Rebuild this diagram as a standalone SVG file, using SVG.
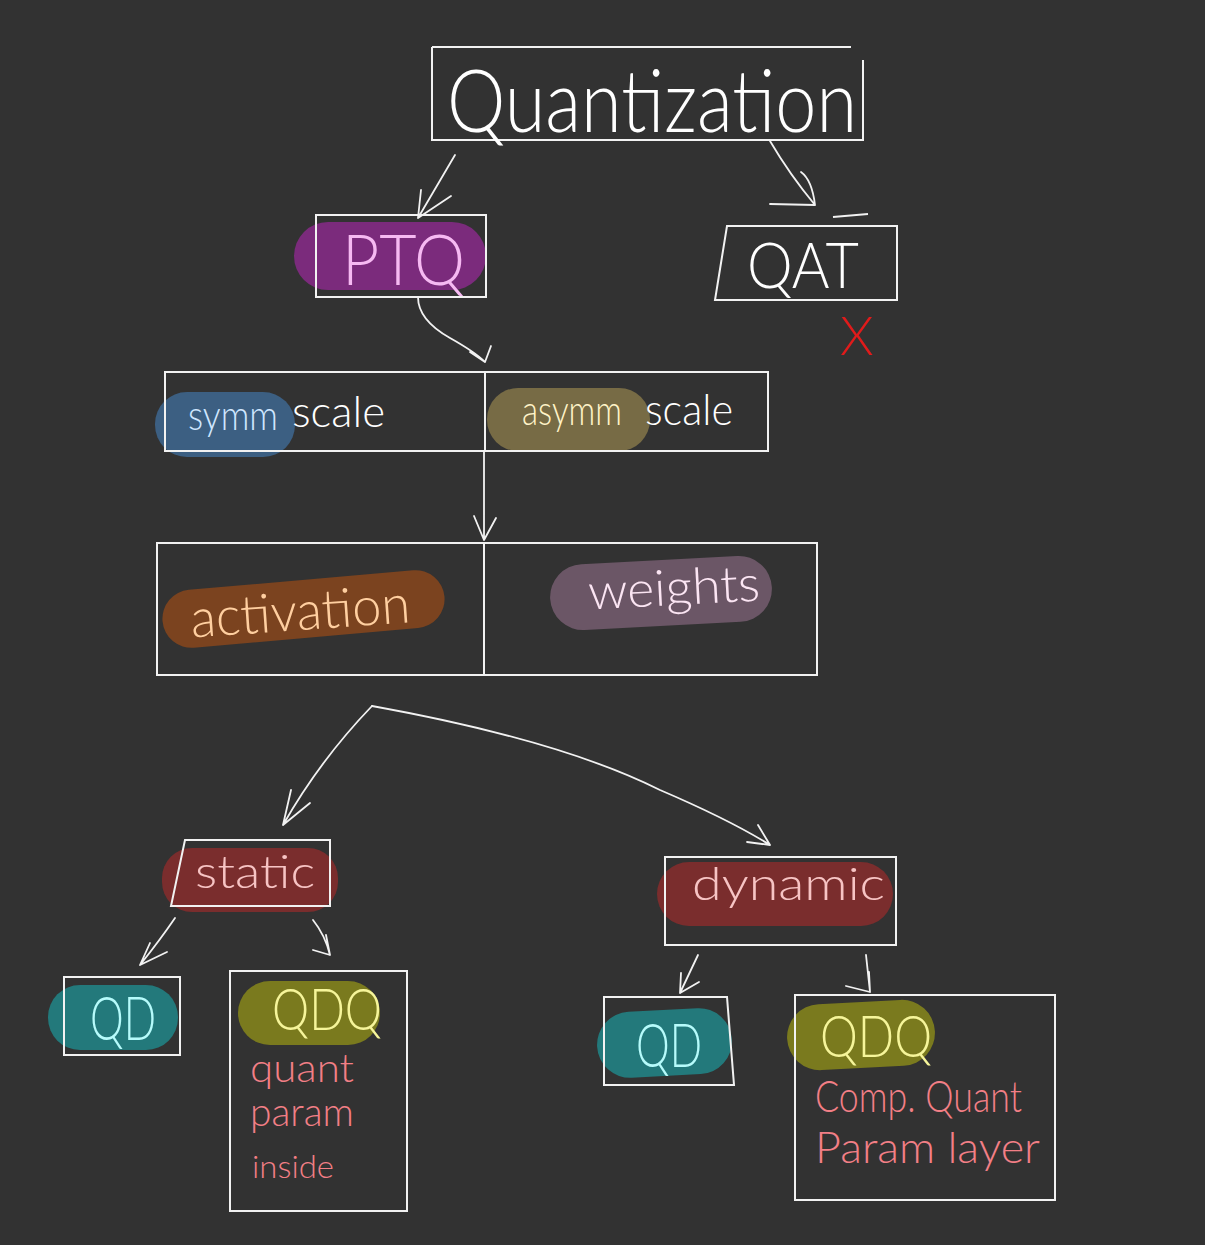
<svg xmlns="http://www.w3.org/2000/svg" width="1205" height="1245" viewBox="0 0 1205 1245">
<style>
.box{fill:none;stroke:#f2f2f2;stroke-width:2}
.con{fill:none;stroke:#f2f2f2;stroke-width:1.8;stroke-linecap:round;stroke-linejoin:round}
.t{font-family:Lato,"Liberation Sans",sans-serif;font-weight:300}
.w{fill:#ffffff}
.pk{fill:#f27f86}
</style>
<rect x="0" y="0" width="1205" height="1245" fill="#323232"/>

<g id="node-quantization">
<path class="box" d="M432 47 L851 47 M432 47 L432 140 L863 140 L863 60"/>
<text class="t w" x="447" y="132" font-size="86" textLength="410" lengthAdjust="spacingAndGlyphs">Quantization</text>
</g>

<g id="node-ptq">
<rect x="294" y="222" width="192" height="68" rx="34" fill="#7b2b7c"/>
<rect class="box" x="316" y="215" width="170" height="82"/>
<text class="t" x="342" y="285" font-size="70" textLength="123" lengthAdjust="spacingAndGlyphs" fill="#f6b9f2">PTQ</text>
</g>

<g id="node-qat">
<path class="box" d="M727 226 L897 226 L897 300 L715 300 Z M833 217 L868 214"/>
<text class="t w" x="747" y="288" font-size="64" textLength="112" lengthAdjust="spacingAndGlyphs">QAT</text>
<text class="t" x="840" y="355" font-size="54" fill="#e01b1b">X</text>
</g>

<g id="node-scale">
<rect x="155" y="392" width="140" height="65" rx="32" fill="#3c5f82"/>
<rect x="487" y="388" width="163" height="63" rx="31" fill="#776b45"/>
<rect class="box" x="165" y="372" width="603" height="79"/>
<line class="box" x1="485" y1="372" x2="485" y2="451"/>
<text class="t" x="188" y="430" font-size="42" textLength="90" lengthAdjust="spacingAndGlyphs" fill="#cfe6ff">symm</text>
<text class="t w" x="292" y="427" font-size="44" textLength="93" lengthAdjust="spacingAndGlyphs">scale</text>
<text class="t" x="522" y="425" font-size="42" textLength="100" lengthAdjust="spacingAndGlyphs" fill="#fff3c8">asymm</text>
<text class="t w" x="645" y="425" font-size="44" textLength="88" lengthAdjust="spacingAndGlyphs">scale</text>
</g>

<g id="node-act-weights">
<rect x="162" y="580" width="283" height="58" rx="29" fill="#7b431f" transform="rotate(-5 303 609)"/>
<rect x="550" y="560" width="222" height="66" rx="33" fill="#6b5666" transform="rotate(-3 661 593)"/>
<rect class="box" x="157" y="543" width="660" height="132"/>
<line class="box" x1="484" y1="543" x2="484" y2="675"/>
<text class="t" x="190" y="630" font-size="54" textLength="220" lengthAdjust="spacingAndGlyphs" fill="#ffcfa0" transform="rotate(-4 300 610)">activation</text>
<text class="t" x="588" y="605" font-size="50" textLength="172" lengthAdjust="spacingAndGlyphs" fill="#fbe5f3" transform="rotate(-3 674 590)">weights</text>
</g>

<g id="node-static">
<rect x="162" y="848" width="176" height="64" rx="30" fill="#7a2d2d"/>
<path class="box" d="M185 840 L330 840 L330 906 L171 906 Z"/>
<text class="t" x="195" y="888" font-size="46" textLength="120" lengthAdjust="spacingAndGlyphs" fill="#f7c4c4">static</text>
</g>

<g id="node-dynamic">
<rect x="657" y="862" width="236" height="64" rx="32" fill="#7a2d2d"/>
<rect class="box" x="665" y="857" width="231" height="88"/>
<text class="t" x="692" y="900" font-size="46" textLength="193" lengthAdjust="spacingAndGlyphs" fill="#f7c4c4">dynamic</text>
</g>

<g id="node-qd-static">
<rect x="48" y="985" width="130" height="65" rx="32" fill="#23797b"/>
<rect class="box" x="64" y="977" width="116" height="78"/>
<text class="t" x="90" y="1040" font-size="62" textLength="66" lengthAdjust="spacingAndGlyphs" fill="#b6fbfb">QD</text>
</g>

<g id="node-qdq-static">
<rect x="238" y="981" width="142" height="64" rx="32" fill="#7a7a1e"/>
<rect class="box" x="230" y="971" width="177" height="240"/>
<text class="t" x="272" y="1030" font-size="58" textLength="110" lengthAdjust="spacingAndGlyphs" fill="#f6f59a">QDQ</text>
<text class="t pk" x="250" y="1082" font-size="40" textLength="104" lengthAdjust="spacingAndGlyphs">quant</text>
<text class="t pk" x="250" y="1126" font-size="40" textLength="104" lengthAdjust="spacingAndGlyphs">param</text>
<text class="t pk" x="252" y="1178" font-size="32" textLength="82" lengthAdjust="spacingAndGlyphs">inside</text>
</g>

<g id="node-qd-dynamic">
<rect x="597" y="1010" width="135" height="66" rx="33" fill="#23797b" transform="rotate(-3 664 1043)"/>
<path class="box" d="M604 997 L727 997 L734 1085 L604 1085 Z"/>
<text class="t" x="636" y="1067" font-size="62" textLength="66" lengthAdjust="spacingAndGlyphs" fill="#b6fbfb">QD</text>
</g>

<g id="node-qdq-dynamic">
<rect x="787" y="1002" width="148" height="66" rx="33" fill="#7a7a1e" transform="rotate(-3 861 1035)"/>
<rect class="box" x="795" y="995" width="260" height="205"/>
<text class="t" x="820" y="1057" font-size="58" textLength="112" lengthAdjust="spacingAndGlyphs" fill="#f6f59a">QDQ</text>
<text class="t pk" x="815" y="1112" font-size="44" textLength="207" lengthAdjust="spacingAndGlyphs">Comp. Quant</text>
<text class="t pk" x="815" y="1163" font-size="44" textLength="225" lengthAdjust="spacingAndGlyphs">Param layer</text>
</g>

<g id="connectors">
<path class="con" d="M455 155 L418 218 M418 218 L421 190 M418 218 L451 196"/>
<path class="con" d="M770 141 Q790 175 815 205 M815 205 L770 204 M815 205 Q812 180 801 172"/>
<path class="con" d="M418 297 Q418 320 450 338 Q475 352 485 362 M485 362 L470 352 M485 362 L491 346"/>
<path class="con" d="M484 451 L484 540 M484 540 L474 516 M484 540 L496 518"/>
<path class="con" d="M372 706 Q320 760 283 825 M283 825 L291 790 M283 825 L310 803"/>
<path class="con" d="M372 706 Q560 740 660 790 Q730 820 770 845 M770 845 L758 825 M770 845 L747 842"/>
<path class="con" d="M175 918 Q160 940 140 965 M140 965 L150 943 M140 965 L167 952"/>
<path class="con" d="M313 920 Q325 935 330 955 M330 955 L313 950 M330 955 L326 935"/>
<path class="con" d="M698 955 L680 993 M680 993 L681 973 M680 993 L699 982"/>
<path class="con" d="M866 955 L870 992 M870 992 L846 986 M870 992 L869 972"/>
</g>
</svg>
